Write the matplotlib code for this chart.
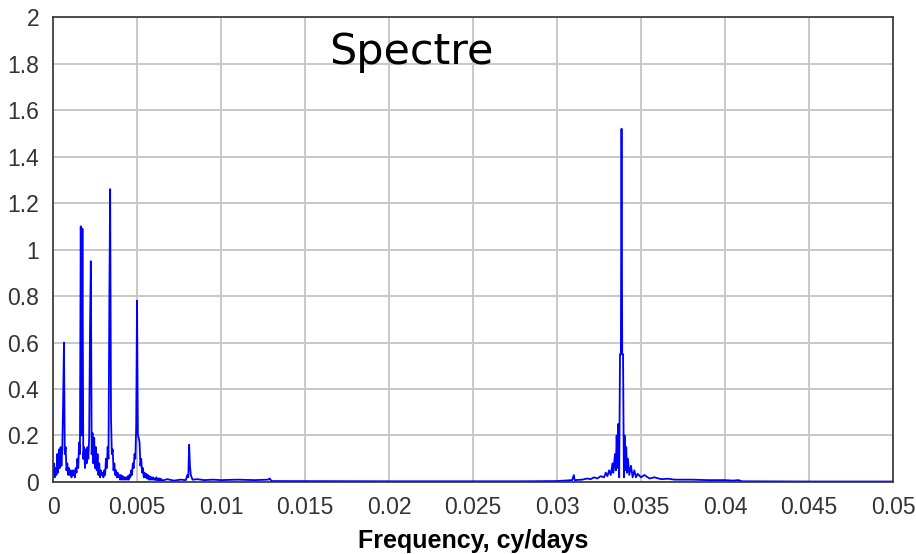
import numpy as np
import matplotlib.pyplot as plt

# Spectrum amplitudes, low-frequency band sampled every 0.00005 cy/day (0 .. 0.0065)
low_step = 0.00005
low_amp = [
    0.03, 0.08, 0.02, 0.06, 0.03, 0.12, 0.04, 0.14, 0.06, 0.15,
    0.07, 0.14, 0.34, 0.60, 0.12, 0.15, 0.05, 0.08, 0.03, 0.06,
    0.03, 0.05, 0.02, 0.05, 0.03, 0.05, 0.02, 0.06, 0.04, 0.10,
    0.06, 0.17, 0.12, 1.10, 0.20, 1.09, 0.10, 0.15, 0.06, 0.14,
    0.08, 0.15, 0.10, 0.19, 0.66, 0.95, 0.12, 0.21, 0.08, 0.19,
    0.06, 0.15, 0.05, 0.12, 0.03, 0.08, 0.02, 0.05, 0.03, 0.04,
    0.02, 0.05, 0.03, 0.10, 0.06, 0.15, 0.10, 0.75, 1.26, 0.28,
    0.12, 0.14, 0.05, 0.08, 0.03, 0.05, 0.02, 0.04, 0.02, 0.03,
    0.01, 0.03, 0.01, 0.025, 0.01, 0.02, 0.01, 0.02, 0.01, 0.025,
    0.01, 0.03, 0.02, 0.05, 0.03, 0.08, 0.06, 0.12, 0.10, 0.24,
    0.78, 0.20, 0.19, 0.17, 0.07, 0.10, 0.04, 0.06, 0.02, 0.04,
    0.02, 0.035, 0.015, 0.03, 0.01, 0.025, 0.01, 0.02, 0.01, 0.02,
    0.01, 0.015, 0.008, 0.02, 0.008, 0.015, 0.007, 0.015, 0.007, 0.012,
    0.006,
]

# Mid band (frequency in 1e-3 cy/day, amplitude)
mid_freq = [6.8, 7.2, 7.6, 7.9, 8.0, 8.05, 8.1, 8.15, 8.2, 8.3, 8.6, 9.0, 9.5,
            10.0, 11.0, 12.0, 12.8, 12.9, 13.0, 20.0, 28.0, 30.0, 30.9, 31.0,
            31.05, 31.5]
mid_amp = [0.012, 0.006, 0.01, 0.008, 0.03, 0.02, 0.16, 0.07, 0.03, 0.01, 0.012,
           0.008, 0.01, 0.008, 0.01, 0.008, 0.01, 0.015, 0.004, 0.003, 0.003,
           0.004, 0.008, 0.03, 0.008, 0.01]

# Main peak near 0.034 cy/day (frequency in 1e-3 cy/day, amplitude)
peak_freq = [31.8, 32.0, 32.2, 32.4, 32.6, 32.8, 32.9, 33.0, 33.1, 33.2, 33.3,
             33.35, 33.45, 33.5, 33.55, 33.6, 33.65, 33.7, 33.75, 33.8, 33.84,
             33.88, 33.93, 33.98, 34.02, 34.07, 34.12, 34.17, 34.22, 34.3,
             34.4, 34.5, 34.6, 34.7, 34.8, 35.0, 35.2, 35.5, 35.8, 36.2, 36.6,
             37.0, 38.0, 39.0, 40.0, 40.5, 40.8, 41.0, 45.0, 50.0]
peak_amp = [0.015, 0.012, 0.02, 0.015, 0.025, 0.02, 0.04, 0.025, 0.05, 0.03, 0.08,
            0.04, 0.12, 0.05, 0.2, 0.06, 0.25, 0.02, 0.55, 0.55, 1.52,
            0.55, 0.55, 0.02, 0.2, 0.05, 0.15, 0.04, 0.1, 0.03,
            0.07, 0.02, 0.05, 0.02, 0.035, 0.02, 0.03, 0.015, 0.02, 0.012, 0.014,
            0.01, 0.01, 0.008, 0.008, 0.006, 0.008, 0.003, 0.002, 0.002]

freq = np.concatenate([np.arange(len(low_amp)) * low_step,
                       np.array(mid_freq) * 1e-3,
                       np.array(peak_freq) * 1e-3])
amp = np.concatenate([low_amp, mid_amp, peak_amp])

fig = plt.figure(figsize=(9.16, 5.54), dpi=100)
ax = fig.add_axes([0.0579, 0.130, 0.9170, 0.839])

ax.plot(freq, amp, color='#0000ff', linewidth=1.3)

ax.set_xlim(0, 0.05)
ax.set_ylim(0, 2)
ax.set_xticks(np.arange(0, 0.0501, 0.005))
ax.set_xticklabels(['0', '0.005', '0.01', '0.015', '0.02', '0.025', '0.03',
                    '0.035', '0.04', '0.045', '0.05'])
ax.set_yticks(np.arange(0, 2.01, 0.2))
ax.set_yticklabels(['0', '0.2', '0.4', '0.6', '0.8', '1', '1.2', '1.4', '1.6',
                    '1.8', '2'])
ax.grid(True, color='#c8c8c8', linewidth=1.4)
ax.set_axisbelow(True)
ax.tick_params(length=0, pad=10, labelsize=16.5, labelcolor='#333333')
for lab in ax.get_xticklabels() + ax.get_yticklabels():
    lab.set_family('Liberation Sans')
for s in ax.spines.values():
    s.set_color('#333333')
    s.set_linewidth(1.2)

ax.set_xlabel('Frequency, cy/days', family='Liberation Sans', fontweight='bold',
              fontsize=18, labelpad=7)
ax.text(0.426, 0.925, 'Spectre', transform=ax.transAxes, ha='center', va='center',
        fontsize=31, family='DejaVu Sans')

fig.savefig('out.png', dpi=100)
